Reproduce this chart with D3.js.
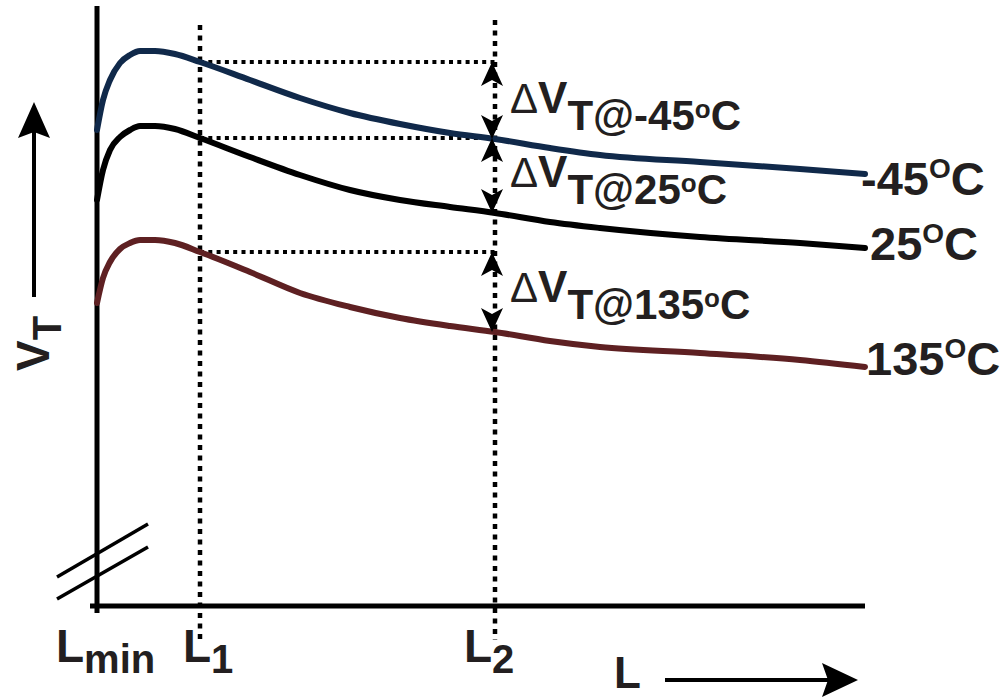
<!DOCTYPE html>
<html>
<head>
<meta charset="utf-8">
<script src="https://cdn.jsdelivr.net/npm/d3@7"></script>
<style>
  body { margin: 0; background: #fff; }
  text { font-family: "Liberation Sans", Arial, sans-serif; font-weight: bold; fill: #231f20; }
</style>
</head>
<body>
<div id="chart"></div>
<script>
// channel length (arbitrary units, 0 = Lmin)
const lengths = [0, 6, 13, 23, 33, 43, 58, 78, 103, 153, 203, 253, 303, 353, 398, 453, 503, 603, 703, 768];
// threshold voltage (arbitrary units) per temperature
const vtMinus45 = [476, 506, 526, 543, 551, 555, 555, 552, 544, 526, 508, 493, 482, 473, 467, 458, 451, 444, 437, 432];
const vt25      = [406, 436, 456, 469, 476, 480, 480, 477, 468, 449, 431, 416, 406, 399, 393, 384, 378, 369, 363, 358];
const vt135     = [303, 328, 344, 357, 363, 366, 366, 363, 354, 334, 313, 299, 288, 280, 274, 265, 259, 253, 246, 239];
const seriesNames = ["-45", "25", "135"];
const seriesColors = ["#10294a", "#000000", "#5e2022"];
// marked lengths
const L1 = 103, L2 = 398;

const W = 1008, H = 698;
const svg = d3.select("#chart").append("svg")
  .attr("width", W).attr("height", H);

const x = d3.scaleLinear().domain([0, 768]).range([97, 865]);
const y = d3.scaleLinear().domain([0, 600]).range([606, 6]);

const allSeries = [vtMinus45, vt25, vt135];

// dotted guide lines at L1 and L2
[L1, L2].forEach(l => {
  svg.append("line")
    .attr("x1", x(l)).attr("x2", x(l))
    .attr("y1", l === L1 ? 25 : 20).attr("y2", 640)
    .attr("stroke", "#000").attr("stroke-width", 4.5)
    .attr("stroke-dasharray", "5,5.5");
});

const i1 = lengths.indexOf(L1), i2 = lengths.indexOf(L2);

// horizontal dotted lines from the L1 crossing to L2
allSeries.forEach(s => {
  svg.append("line")
    .attr("x1", x(L1)).attr("x2", x(L2))
    .attr("y1", y(s[i1])).attr("y2", y(s[i1]))
    .attr("stroke", "#000").attr("stroke-width", 4)
    .attr("stroke-dasharray", "4,4.3");
});

// axes
svg.append("line")
  .attr("x1", x(0)).attr("x2", x(0))
  .attr("y1", y(600)).attr("y2", y(0) + 7)
  .attr("stroke", "#000").attr("stroke-width", 5);
svg.append("line")
  .attr("x1", x(0) - 7).attr("x2", x(768))
  .attr("y1", y(0)).attr("y2", y(0))
  .attr("stroke", "#000").attr("stroke-width", 5);

// axis break
[[57, 577, 148, 524], [57, 599, 148, 547]].forEach(b => {
  svg.append("line")
    .attr("x1", b[0]).attr("y1", b[1]).attr("x2", b[2]).attr("y2", b[3])
    .attr("stroke", "#000").attr("stroke-width", 3.5);
});

// curves
const line = d3.line()
  .x((d, i) => x(lengths[i]))
  .y(d => y(d))
  .curve(d3.curveMonotoneX);

allSeries.forEach((s, k) => {
  svg.append("path")
    .datum(s)
    .attr("d", line)
    .attr("fill", "none")
    .attr("stroke", seriesColors[k])
    .attr("stroke-width", 6)
    .attr("stroke-linecap", "round");
});

// double arrows showing delta VT between L1 and L2
function arrowHead(tx, ty, dir) {
  // dir = -1 points up, +1 points down
  const len = 24, hw = 11, notch = 6;
  const p = d3.path();
  p.moveTo(tx, ty);
  p.lineTo(tx - hw, ty - dir * len);
  p.lineTo(tx, ty - dir * (len - notch));
  p.lineTo(tx + hw, ty - dir * len);
  p.closePath();
  svg.append("path").attr("d", p.toString()).attr("fill", "#000");
}
allSeries.forEach(s => {
  const ax = x(L2) - 3;
  arrowHead(ax, y(s[i1]), -1);
  arrowHead(ax, y(s[i2]), 1);
});

// delta labels
const deltaBase = [113, 187, 302];
seriesNames.forEach((name, k) => {
  const t = svg.append("text").attr("x", 510).attr("y", deltaBase[k]);
  t.append("tspan").attr("font-weight", "normal").attr("font-size", 42).text("\u0394");
  t.append("tspan").attr("font-size", 44).text("V");
  t.append("tspan").attr("font-size", 42).attr("dy", 17).text("T@" + name);
  t.append("tspan").attr("font-size", 26).attr("dy", -12).text("o");
  t.append("tspan").attr("font-size", 42).attr("dy", 12).text("C");
});

// curve end labels
const endLabel = [[861, 195], [870, 260], [866, 375]];
seriesNames.forEach((name, k) => {
  const t = svg.append("text").attr("x", endLabel[k][0]).attr("y", endLabel[k][1]).attr("font-size", 47);
  t.append("tspan").text(name);
  t.append("tspan").attr("font-size", 28).attr("dy", -17).text("O");
  t.append("tspan").attr("dy", 17).text("C");
});

// x labels
function subLabel(px, main, sub) {
  const t = svg.append("text").attr("x", px).attr("y", 662).attr("font-size", 46);
  t.append("tspan").text(main);
  t.append("tspan").attr("font-size", 40).attr("dy", 11).text(sub);
}
subLabel(56, "L", "min");
subLabel(x(L1) - 17, "L", "1");
subLabel(x(L2) - 31, "L", "2");

// L axis arrow
svg.append("text").attr("x", 614).attr("y", 688).attr("font-size", 44).text("L");
svg.append("line").attr("x1", 665).attr("x2", 830).attr("y1", 680).attr("y2", 680)
  .attr("stroke", "#000").attr("stroke-width", 4);
svg.append("path").attr("d", "M858,680 L822,663 L828,680 L822,697 Z").attr("fill", "#000");

// VT axis arrow
svg.append("line").attr("x1", 34).attr("x2", 34).attr("y1", 297).attr("y2", 130)
  .attr("stroke", "#000").attr("stroke-width", 4);
svg.append("path").attr("d", "M34,102 L18,138 L34,132 L50,138 Z").attr("fill", "#000");
const vt = svg.append("text").attr("transform", "translate(49,371) rotate(-90)").attr("font-size", 46);
vt.append("tspan").text("V");
vt.append("tspan").attr("font-size", 40).attr("dy", 12).text("T");
</script>
</body>
</html>
